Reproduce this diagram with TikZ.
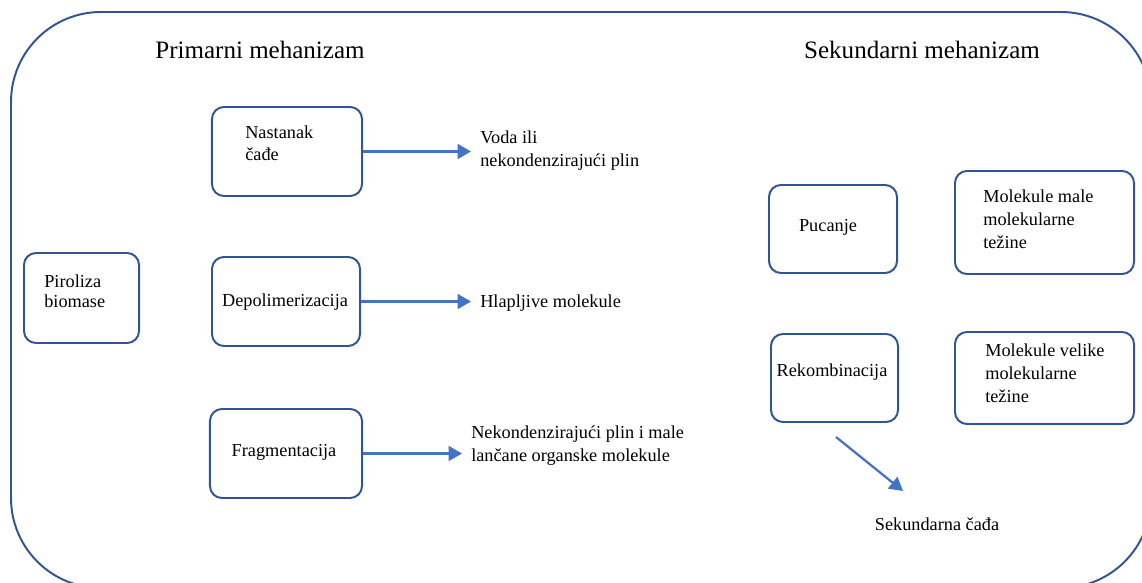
\documentclass[tikz,border=0pt]{standalone}
\usepackage{fontspec}
\setmainfont{Liberation Serif}
\usetikzlibrary{positioning,calc,arrows.meta}
\definecolor{boxblue}{HTML}{2F5597}
\definecolor{arrowblue}{HTML}{4472C4}
\tikzset{font=\fontsize{13}{16}\selectfont}

\begin{document}
\begin{tikzpicture}[x=0.025cm, y=-0.025cm]
	\useasboundingbox (0,0) rectangle (1142,583);
	\begin{scope}
		\tikzstyle{every node}=[align=left, inner sep=0pt]
		\tikzstyle{box}=[draw=boxblue, line width=1.4pt, rounded corners=0.3cm]
		\tikzstyle{arr}=[draw=arrowblue, line width=1.6pt, -{Triangle[length=9.5pt, width=10.5pt]}]
		\tikzstyle{title}=[font=\fontsize{17.8}{20}\selectfont]

		% outer frame
		\draw [boxblue, line width=1.4pt, rounded corners=2.25cm] (11,12) rectangle (1151,588);

		\node [title] (prim) at (260, 50) {Primarni mehanizam};
		\node [title] (sek) at (922, 50) {Sekundarni mehanizam};

		% primary side
		\node [box, minimum width=2.875cm, minimum height=2.25cm] (piro) at (81.5, 298) {};
		\node [anchor=west, font=\fontsize{13}{14.2}\selectfont] (pirotxt) at (44, 291) {Piroliza\\biomase};

		\node [box, minimum width=3.75cm, minimum height=2.225cm] (nast) at (287, 151.5) {};
		\node [anchor=west, font=\fontsize{13}{15.6}\selectfont] (nasttxt) at (245, 143) {Nastanak\\čađe};

		\node [box, minimum width=3.7cm, minimum height=2.225cm] (depo) at (286, 301.5) {};
		\node (depotxt) at (285, 302) {Depolimerizacija};

		\node [box, minimum width=3.8cm, minimum height=2.225cm] (frag) at (286, 453.5) {};
		\node (fragtxt) at (284, 452) {Fragmentacija};

		\node [anchor=west, inner xsep=0.225cm] (voda) at (471, 150.5) {Voda ili\\nekondenzirajući plin};
		\node [anchor=west, inner xsep=0.225cm] (hlap) at (471, 303) {Hlapljive molekule};
		\node [anchor=west, inner xsep=0.225cm] (nekon) at (462, 445.5) {Nekondenzirajući plin i male\\lančane organske molekule};

		\draw [arr] (nast.east) -- (nast.east -| voda.west);
		\draw [arr] (depo.east) -- (depo.east -| hlap.west);
		\draw [arr] (frag.east) -- (frag.east -| nekon.west);

		% secondary side
		\node [box, minimum width=3.2cm, minimum height=2.2cm] (puc) at (833, 229) {};
		\node (puctxt) at (828, 227) {Pucanje};

		\node [box, minimum width=4.475cm, minimum height=2.575cm] (male) at (1044.5, 222.5) {};
		\node [anchor=west, font=\fontsize{13}{16.3}\selectfont] (maletxt) at (983, 219) {Molekule male\\molekularne\\težine};

		\node [box, minimum width=3.175cm, minimum height=2.2cm] (rek) at (834.5, 378) {};
		\node (rektxt) at (832, 372) {Rekombinacija};

		\node [box, minimum width=4.475cm, minimum height=2.3cm] (velike) at (1044.5, 378) {};
		\node [anchor=west, font=\fontsize{13}{16.3}\selectfont] (veliketxt) at (985, 373) {Molekule velike\\molekularne\\težine};

		\node (cada) at (937, 524) {Sekundarna čađa};
		\coordinate (rekstart) at (836, 437);
		\coordinate (cadatip) at (903, 491);
		\draw [arr] (rekstart) -- (cadatip);
	\end{scope}
\end{tikzpicture}
\end{document}
